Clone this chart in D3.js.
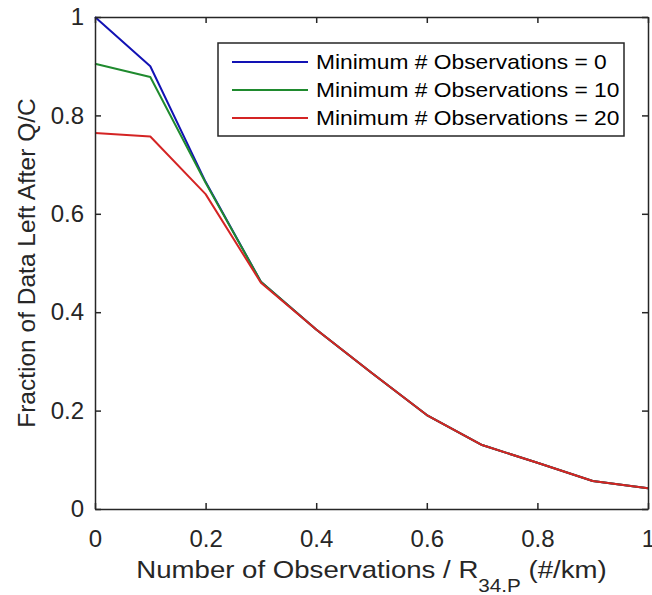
<!DOCTYPE html>
<html>
<head>
<meta charset="utf-8">
<script src="https://cdn.jsdelivr.net/npm/d3@7"></script>
<style>
  html, body { margin: 0; padding: 0; background: #fff; }
  svg { display: block; font-family: "Liberation Sans", Arial, sans-serif; }
</style>
</head>
<body>
<svg id="chart" width="652" height="595"></svg>
<script>
const xValues = [0, 0.1, 0.2, 0.3, 0.4, 0.5, 0.6, 0.7, 0.8, 0.9, 1.0];
const minObs0  = [1.000, 0.900, 0.665, 0.462, 0.365, 0.277, 0.191, 0.130, 0.094, 0.057, 0.042];
const minObs10 = [0.905, 0.878, 0.663, 0.462, 0.365, 0.277, 0.191, 0.130, 0.094, 0.057, 0.042];
const minObs20 = [0.764, 0.757, 0.640, 0.460, 0.365, 0.277, 0.191, 0.130, 0.094, 0.057, 0.042];
const seriesNames = ["Minimum # Observations = 0", "Minimum # Observations = 10", "Minimum # Observations = 20"];
const seriesColors = ["#1212b4", "#1f8a2e", "#d42424"];
const xTicks = [0, 0.2, 0.4, 0.6, 0.8, 1];
const yTicks = [0, 0.2, 0.4, 0.6, 0.8, 1];

const series = [minObs0, minObs10, minObs20];
const axisColor = "#262626";

const svg = d3.select("#chart");
const m = { left: 95, right: 4, top: 17, bottom: 86 };
const W = 652, H = 595;
const x = d3.scaleLinear().domain([0, 1]).range([m.left, W - m.right]);
const y = d3.scaleLinear().domain([0, 1]).range([H - m.bottom, m.top]);

// lines
const line = d3.line().x((d, i) => x(xValues[i])).y(d => y(d));
series.forEach((s, k) => {
  svg.append("path").datum(s)
    .attr("d", line)
    .attr("fill", "none")
    .attr("stroke", seriesColors[k])
    .attr("stroke-width", 2)
    .attr("stroke-linejoin", "round");
});

// axes (ticks inward, box)
const tickLen = 6;
const xb = d3.axisBottom(x).tickValues(xTicks).tickSizeInner(-tickLen).tickSizeOuter(0).tickPadding(21).tickFormat(d3.format("~g"));
const xt = d3.axisTop(x).tickValues(xTicks).tickSizeInner(-tickLen).tickSizeOuter(0).tickFormat("");
const yl = d3.axisLeft(y).tickValues(yTicks).tickSizeInner(-tickLen).tickSizeOuter(0).tickPadding(11).tickFormat(d3.format("~g"));
const yr = d3.axisRight(y).tickValues(yTicks).tickSizeInner(-tickLen).tickSizeOuter(0).tickFormat("");

function style(g) {
  g.selectAll("path.domain").attr("stroke", axisColor).attr("stroke-width", 1.5);
  g.selectAll("line").attr("stroke", axisColor).attr("stroke-width", 1.5);
  g.selectAll("text").attr("fill", axisColor).style("font-size", "24px").style("font-family", "'Liberation Sans', Arial, sans-serif");
}
svg.append("g").attr("transform", `translate(0,${H - m.bottom})`).call(xb).call(style);
svg.append("g").attr("transform", `translate(0,${m.top})`).call(xt).call(style);
svg.append("g").attr("transform", `translate(${m.left},0)`).call(yl).call(style);
svg.append("g").attr("transform", `translate(${W - m.right},0)`).call(yr).call(style);

// axis labels
const xl = svg.append("text")
  .attr("transform", `translate(${(x(0) + x(1)) / 2},578) scale(1.15,1)`)
  .attr("text-anchor", "middle")
  .attr("fill", axisColor)
  .style("font-size", "24px");
xl.append("tspan").text("Number of Observations / R");
xl.append("tspan").attr("dy", 14).style("font-size", "18px").text("34.P");
xl.append("tspan").attr("dy", -14).text(" (#/km)");

svg.append("text")
  .attr("transform", `translate(35,${(y(0) + y(1)) / 2}) rotate(-90)`)
  .attr("text-anchor", "middle")
  .attr("fill", axisColor)
  .style("font-size", "24.5px")
  .text("Fraction of Data Left After Q/C");

// legend
const lg = svg.append("g");
lg.append("rect")
  .attr("x", 218).attr("y", 43).attr("width", 406).attr("height", 93)
  .attr("fill", "#fff").attr("stroke", axisColor).attr("stroke-width", 1.5);
seriesNames.forEach((nm, k) => {
  const ry = 62 + k * 28;
  lg.append("line").attr("x1", 232).attr("x2", 308).attr("y1", ry).attr("y2", ry)
    .attr("stroke", seriesColors[k]).attr("stroke-width", 2);
  lg.append("text").attr("transform", `translate(316,${ry + 7}) scale(1.14,1)`)
    .attr("fill", "#000").style("font-size", "20px").text(nm);
});
</script>
</body>
</html>
